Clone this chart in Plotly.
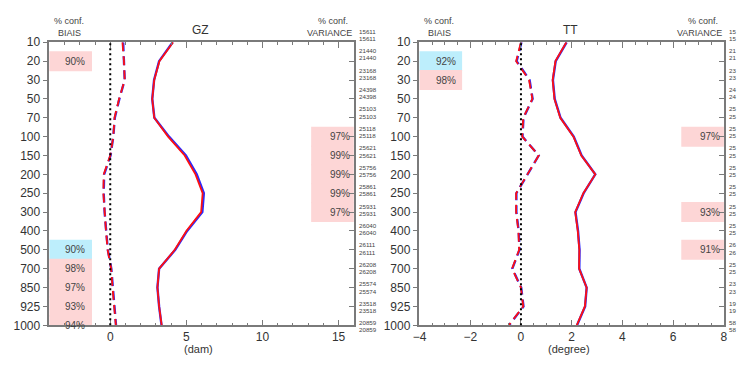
import plotly.graph_objects as go

# ---------------- data ----------------
levels = ["10", "20", "30", "50", "70", "100", "150", "200", "250", "300",
          "400", "500", "700", "850", "925", "1000"]

# GZ (dam)
gz_rms_blue = [4.10, 3.21, 2.88, 2.76, 2.90, 3.86, 4.97, 5.68, 6.15, 6.05, 5.05, 4.27, 3.21, 3.10, 3.21, 3.37]
gz_rms_red = [4.13, 3.23, 2.89, 2.76, 2.89, 3.80, 4.89, 5.60, 6.07, 5.97, 5.00, 4.24, 3.21, 3.10, 3.21, 3.38]
gz_bias_blue = [0.85, 0.92, 0.95, 0.60, 0.30, 0.20, 0.02, -0.40, -0.43, -0.37, -0.27, -0.16, 0.07, 0.16, 0.27, 0.38]
gz_bias_red = [0.80, 0.90, 0.95, 0.58, 0.28, 0.20, 0.00, -0.43, -0.45, -0.39, -0.28, -0.17, 0.06, 0.15, 0.26, 0.37]

# TT (degree)
tt_rms_blue = [1.80, 1.37, 1.26, 1.33, 1.56, 2.08, 2.39, 2.93, 2.47, 2.15, 2.25, 2.31, 2.30, 2.59, 2.53, 2.21]
tt_rms_red = [1.79, 1.36, 1.25, 1.32, 1.55, 2.07, 2.38, 2.93, 2.46, 2.14, 2.24, 2.30, 2.29, 2.59, 2.52, 2.20]
tt_bias_blue = [0.02, -0.17, 0.34, 0.46, 0.10, 0.06, 0.70, 0.26, -0.18, -0.18, -0.09, -0.06, -0.34, 0.01, 0.10, -0.47]
tt_bias_red = [0.00, -0.19, 0.32, 0.45, 0.09, 0.05, 0.70, 0.25, -0.19, -0.19, -0.10, -0.07, -0.35, 0.00, 0.09, -0.48]

# significance boxes
gz_bias_conf_levels = ["20", "500", "700", "850", "925", "1000"]
gz_bias_conf = [90, 90, 98, 97, 93, 94]
gz_bias_conf_sign = ["+", "-", "+", "+", "+", "+"]
gz_var_conf_levels = ["100", "150", "200", "250", "300"]
gz_var_conf = [97, 99, 99, 99, 97]

tt_bias_conf_levels = ["20", "30"]
tt_bias_conf = [92, 98]
tt_bias_conf_sign = ["-", "+"]
tt_var_conf_levels = ["100", "300", "500"]
tt_var_conf = [97, 93, 91]

# number of observations per level (TT column is cut by the image edge: only the
# leading digits are readable)
gz_counts = ["15611", "21440", "23168", "24398", "25103", "25118", "25621", "25756", "25861",
             "25931", "26040", "26111", "26208", "25574", "23518", "20859"]
tt_counts = ["15", "21", "23", "24", "25", "25", "25", "25", "25", "25",
             "25", "26", "25", "23", "19", "58"]

# ---------------- styling ----------------
W, H = 741, 365
FONT = "Liberation Sans, Arial, sans-serif"
TXT = "#333333"
AX = "#7a7a7a"
RED = "#ff1010"
BLUE = "#2a2aff"
PINK = "#fdd6d6"
CYAN = "#bdeefc"
PLOT_TOP, PLOT_BOT = 36.7, 331.0
PANELS = [(43.0, 352.0), (418.7, 727.7)]


def px_x(p):
    return p / W


def px_y(p):
    return 1 - p / H


fig = go.Figure()

panel_defs = [
    dict(name="GZ", unit="(dam)", rng=[-4, 16], major=[0, 5, 10, 15], minor=1,
         rms=(gz_rms_blue, gz_rms_red), bias=(gz_bias_blue, gz_bias_red),
         bl=gz_bias_conf_levels, bv=gz_bias_conf, bs=gz_bias_conf_sign,
         vl=gz_var_conf_levels, vv=gz_var_conf, counts=gz_counts),
    dict(name="TT", unit="(degree)", rng=[-4, 8], major=[-4, -2, 0, 2, 4, 6, 8], minor=0.5,
         rms=(tt_rms_blue, tt_rms_red), bias=(tt_bias_blue, tt_bias_red),
         bl=tt_bias_conf_levels, bv=tt_bias_conf, bs=tt_bias_conf_sign,
         vl=tt_var_conf_levels, vv=tt_var_conf, counts=tt_counts),
]

shapes = []
annotations = []
n = len(levels)
OV = 0.03  # small overlap so contiguous boxes show no seam

for k, pd_ in enumerate(panel_defs):
    xa = "x" if k == 0 else "x2"
    ya = "y" if k == 0 else "y2"
    yov = "y3" if k == 0 else "y4"
    xname = "xaxis" if k == 0 else "xaxis2"
    yname = "yaxis" if k == 0 else "yaxis2"
    yovname = "yaxis3" if k == 0 else "yaxis4"
    x0p, x1p = PANELS[k]
    wpx = x1p - x0p

    # traces
    fig.add_trace(go.Scatter(x=pd_["rms"][0], y=levels, xaxis=xa, yaxis=ya, mode="lines",
                             line=dict(color=BLUE, width=2.4), showlegend=False, hoverinfo="skip"))
    fig.add_trace(go.Scatter(x=pd_["rms"][1], y=levels, xaxis=xa, yaxis=ya, mode="lines",
                             line=dict(color=RED, width=1.8), showlegend=False, hoverinfo="skip"))
    fig.add_trace(go.Scatter(x=pd_["bias"][0], y=levels, xaxis=xa, yaxis=ya, mode="lines",
                             line=dict(color=BLUE, width=2.4, dash="9px,5px"), showlegend=False,
                             hoverinfo="skip"))
    fig.add_trace(go.Scatter(x=pd_["bias"][1], y=levels, xaxis=xa, yaxis=ya, mode="lines",
                             line=dict(color=RED, width=1.8, dash="9px,5px"), showlegend=False,
                             hoverinfo="skip"))
    # dummy trace to render right-side inside ticks
    fig.add_trace(go.Scatter(x=[None], y=[None], xaxis=xa, yaxis=yov, showlegend=False,
                             hoverinfo="skip"))

    dom_x = [px_x(x0p), px_x(x1p)]
    dom_y = [px_y(PLOT_BOT), px_y(PLOT_TOP)]
    fig.layout[xname] = dict(
        domain=dom_x, range=pd_["rng"], anchor=ya, tickvals=pd_["major"],
        ticks="inside", ticklen=6, tickcolor=AX, tickwidth=1,
        minor=dict(ticks="inside", ticklen=3, dtick=pd_["minor"], tick0=0, tickcolor=AX),
        showline=True, linecolor=AX, linewidth=1.5, mirror="ticks",
        showgrid=False, zeroline=False,
        tickfont=dict(size=12, color=TXT, family=FONT),
    )
    fig.layout[yname] = dict(
        domain=dom_y, type="category", categoryarray=levels, range=[n - 1, 0],
        anchor=xa, ticks="outside", ticklen=5, tickcolor=AX, showline=True,
        linecolor=AX, linewidth=1.5, mirror=True, showgrid=False, zeroline=False,
        tickfont=dict(size=12, color=TXT, family=FONT),
    )
    fig.layout[yovname] = dict(
        overlaying=ya, side="right", anchor=xa, range=[n - 1, 0],
        tickvals=list(range(n)), ticks="inside", ticklen=5, tickcolor=AX,
        showticklabels=False, showline=False, showgrid=False, zeroline=False,
    )

    dxr = xa + " domain"

    # zero dotted line
    shapes.append(dict(type="line", xref=xa, yref=ya + " domain", x0=0, x1=0, y0=0, y1=1,
                       line=dict(color="black", width=2, dash="2px,3px"), layer="above"))

    # bias confidence boxes
    for lev, val, sg in zip(pd_["bl"], pd_["bv"], pd_["bs"]):
        i = levels.index(lev)
        shapes.append(dict(type="rect", xref=dxr, yref=ya, x0=0, x1=0.14,
                           y0=max(i - 0.5 - OV, 0), y1=min(i + 0.5 + OV, n - 1),
                           fillcolor=PINK if sg == "+" else CYAN, line=dict(width=0),
                           layer="below"))
        annotations.append(dict(xref=dxr, yref=ya, x=0.125, y=i, text=f"{val}%",
                                xanchor="right", yanchor="middle", showarrow=False,
                                font=dict(size=10, color="#444", family=FONT)))
    # variance confidence boxes
    for lev, val in zip(pd_["vl"], pd_["vv"]):
        i = levels.index(lev)
        shapes.append(dict(type="rect", xref=dxr, yref=ya, x0=0.86, x1=1,
                           y0=max(i - 0.5 - OV, 0), y1=min(i + 0.5 + OV, n - 1),
                           fillcolor=PINK, line=dict(width=0), layer="below"))
        annotations.append(dict(xref=dxr, yref=ya, x=0.993, y=i, text=f"{val}%",
                                xanchor="right", yanchor="middle", showarrow=False,
                                font=dict(size=10, color="#444", family=FONT)))

    # headers
    hx = x0p + 20
    annotations.append(dict(xref="paper", yref="paper", x=px_x(hx), y=px_y(15), text="% conf.",
                            showarrow=False, xanchor="center", yanchor="middle",
                            font=dict(size=9, color="#444", family=FONT)))
    annotations.append(dict(xref="paper", yref="paper", x=px_x(hx), y=px_y(27), text="BIAIS",
                            showarrow=False, xanchor="center", yanchor="middle",
                            font=dict(size=9, color="#444", family=FONT)))
    annotations.append(dict(xref="paper", yref="paper", x=px_x(x1p - 21), y=px_y(15),
                            text="% conf.", showarrow=False, xanchor="center", yanchor="middle",
                            font=dict(size=9, color="#444", family=FONT)))
    annotations.append(dict(xref="paper", yref="paper", x=px_x(x1p), y=px_y(27),
                            text="VARIANCE", showarrow=False, xanchor="right", yanchor="middle",
                            font=dict(size=9, color="#444", family=FONT)))
    annotations.append(dict(xref="paper", yref="paper", x=px_x(x0p + wpx * 0.497), y=px_y(24),
                            text=pd_["name"], showarrow=False, xanchor="center",
                            yanchor="middle", font=dict(size=12, color="#333", family=FONT)))
    # x-axis unit label
    annotations.append(dict(xref="paper", yref="paper", x=px_x(x0p + wpx * 0.49), y=px_y(356),
                            text=pd_["unit"], showarrow=False, xanchor="center",
                            yanchor="middle", font=dict(size=11, color="#333", family=FONT)))

    # observation counts
    cx = x1p + 4.5
    for i, c in enumerate(pd_["counts"]):
        yc = 29 + i * 20.2
        for dy in (-3.8, 3.8):
            annotations.append(dict(xref="paper", yref="paper", x=px_x(cx), y=px_y(yc + dy),
                                    text=c, showarrow=False, xanchor="left",
                                    yanchor="middle", borderpad=0,
                                    font=dict(size=6.2, color="#444", family=FONT)))

fig.update_layout(
    width=W, height=H, margin=dict(l=0, r=0, t=0, b=0),
    paper_bgcolor="white", plot_bgcolor="rgba(0,0,0,0)",
    shapes=shapes, annotations=annotations,
    font=dict(family=FONT, color=TXT),
)

fig.write_html("out.html")
